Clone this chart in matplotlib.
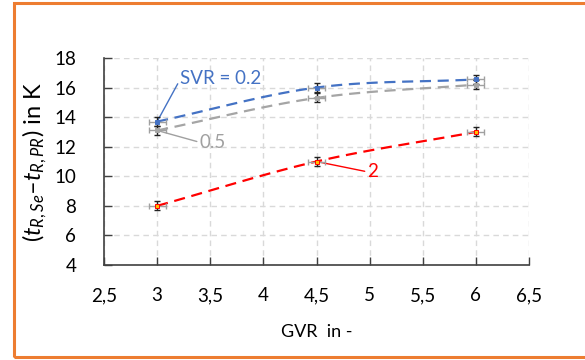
import numpy as np
import matplotlib
matplotlib.use("Agg")
import matplotlib.pyplot as plt
from matplotlib.patches import Rectangle

plt.rcParams['font.family'] = ['Lato', 'DejaVu Sans']
plt.rcParams['mathtext.fontset'] = 'custom'
plt.rcParams['mathtext.rm'] = 'Lato'
plt.rcParams['mathtext.it'] = 'Lato:italic'

gvr = [3.0, 4.5, 6.0]
svr_02 = [13.7, 16.0, 16.55]
svr_05 = [13.1, 15.3, 16.2]
svr_2 = [8.0, 11.0, 13.0]
yerr = 0.3
xerr = 0.08
series_names = ["SVR = 0.2", "0.5", "2"]
xticks = [2.5, 3, 3.5, 4, 4.5, 5, 5.5, 6, 6.5]
yticks = [4, 6, 8, 10, 12, 14, 16, 18]


def smooth(x, y, n=60):
    x = np.asarray(x, float); y = np.asarray(y, float)
    m = np.zeros_like(y)
    m[0] = (y[1] - y[0]) / (x[1] - x[0])
    m[-1] = (y[-1] - y[-2]) / (x[-1] - x[-2])
    for i in range(1, len(x) - 1):
        m[i] = (y[i + 1] - y[i - 1]) / (x[i + 1] - x[i - 1])
    xs_all, ys_all = [], []
    for i in range(len(x) - 1):
        h = x[i + 1] - x[i]
        t = np.linspace(0, 1, n)
        h00 = 2*t**3 - 3*t**2 + 1; h10 = t**3 - 2*t**2 + t
        h01 = -2*t**3 + 3*t**2; h11 = t**3 - t**2
        xs_all.append(x[i] + t*h)
        ys_all.append(h00*y[i] + h10*h*m[i] + h01*y[i+1] + h11*h*m[i+1])
    return np.concatenate(xs_all), np.concatenate(ys_all)


fig = plt.figure(figsize=(5.85, 3.6), dpi=100)
ax = fig.add_axes([104/585, 1-265/360, (529-104)/585, (265-58)/360])

colors = ['#4472C4', '#A5A5A5', '#FF0000']
faces = ['#4472C4', '#A5A5A5', '#FFC000']
for ys, c, fc in zip([svr_02, svr_05, svr_2], colors, faces):
    xs, yy = smooth(gvr, ys)
    ax.plot(xs, yy, color=c, lw=1.6, ls=(0, (5, 3)), zorder=3)
    ax.errorbar(gvr, ys, xerr=xerr, fmt='none', ecolor='#A0A0A0', elinewidth=1, capsize=2.5, zorder=4)
    ax.errorbar(gvr, ys, yerr=yerr, fmt='none', ecolor='#222222', elinewidth=1, capsize=2.5, zorder=4)
    ax.plot(gvr, ys, ls='none', marker='s', ms=3, mfc=fc, mec=c, mew=0.7, zorder=5)

ax.set_xlim(2.5, 6.5)
ax.set_ylim(4, 18)
ax.set_xticks(xticks)
ax.set_xticklabels([f"{t:g}".replace('.', ',') for t in xticks])
ax.set_yticks(yticks)
ax.set_yticklabels([str(t) for t in yticks])
ax.tick_params(direction='in', length=6, width=1, color='#404040', labelsize=13.5, labelcolor='#000000')
ax.tick_params(axis='x', pad=16)
ax.tick_params(axis='y', pad=20)
ax.grid(True, color='#D9D9D9', ls=(0, (4, 3)), lw=1)
ax.set_axisbelow(True)
for s in ['top', 'right']:
    ax.spines[s].set_visible(False)
for s in ['left', 'bottom']:
    ax.spines[s].set_color('#404040')
    ax.spines[s].set_linewidth(1.2)

ax.set_xlabel("GVR  in -", fontsize=13, labelpad=14)
ax.set_ylabel(r"$(t_{R,Se}$–$t_{R,PR})$ in K", fontsize=17, labelpad=4)

ax.annotate(series_names[0], xy=(gvr[0], svr_02[0]), xytext=(3.22, 16.6), color='#4472C4', fontsize=13.5,
            va='center', ha='left', arrowprops=dict(arrowstyle='-', color='#4472C4', lw=1, shrinkA=0, shrinkB=0,
            relpos=(0, 0.5)))
ax.annotate(series_names[1], xy=(gvr[0], svr_05[0]), xytext=(3.4, 12.3), color='#A0A0A0', fontsize=13.5,
            va='center', ha='left', arrowprops=dict(arrowstyle='-', color='#A0A0A0', lw=1, shrinkA=0, shrinkB=0,
            relpos=(0, 0.5)))
ax.annotate(series_names[2], xy=(gvr[1], svr_2[1]), xytext=(4.98, 10.3), color='#FF0000', fontsize=13.5,
            va='center', ha='left', arrowprops=dict(arrowstyle='-', color='#FF0000', lw=1, shrinkA=0, shrinkB=0,
            relpos=(0, 0.5)))

fig.patches.append(Rectangle((14/585, 3/360), 1.2, 354/360, transform=fig.transFigure,
                             fill=False, ec='#ED7D31', lw=2.2))
fig.savefig("out.png", dpi=100)
